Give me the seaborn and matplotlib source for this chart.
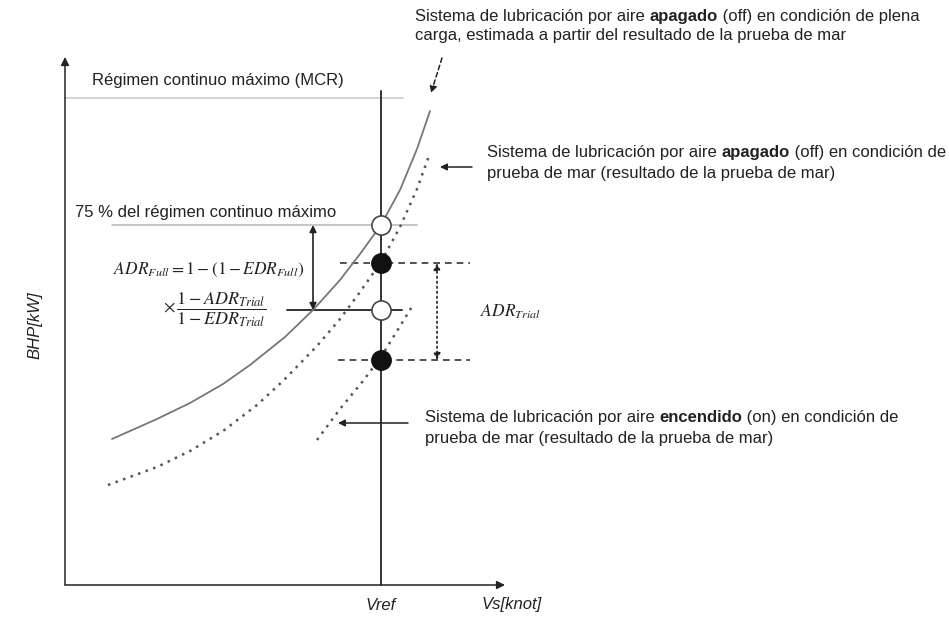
import numpy as np
import pandas as pd
import matplotlib
matplotlib.use("Agg")
import matplotlib.pyplot as plt
import seaborn as sns

# chart units: x = speed, y = power (origin at the axis corner)
# solid curve: air lubrication off, full load (estimated)
off_full_v = [47, 92, 125, 158, 185, 220, 248, 275, 295, 316, 335, 352, 365]
off_full_p = [146, 166, 182, 201, 220, 248, 275, 305, 331, 360, 395, 436, 474]
# dotted curve 1: air lubrication off, sea trial
off_trial_v = [43, 92, 125, 158, 192, 218, 252, 275, 295, 316, 335, 352, 365]
off_trial_p = [100, 118, 134, 154, 180, 204, 239, 266, 293, 323, 358, 396, 432]
# dotted curve 2: air lubrication on, sea trial
on_trial_v = [252, 275, 298, 316, 348]
on_trial_p = [145, 176, 204, 228, 280]

v_ref = 316
p_mcr = 487
p_75 = 360
p_off_trial = 322
p_on_full = 275
p_on_trial = 225

pt_open_v = [v_ref, v_ref]
pt_open_p = [p_75, p_on_full]
pt_fill_v = [v_ref, v_ref]
pt_fill_p = [p_off_trial, p_on_trial]

sns.set_theme(style="white")
plt.rcParams["font.family"] = ["Liberation Sans", "DejaVu Sans"]
plt.rcParams["mathtext.fontset"] = "stix"

fig = plt.figure(figsize=(9.49, 6.29), dpi=100)
ax = fig.add_axes([0, 0, 1, 1])
ax.set_xlim(-65, 884)
ax.set_ylim(-44, 585)
ax.axis("off")

dark = "#222222"
fs = 12

# axes with arrows
ax.annotate("", xy=(0, 528), xytext=(0, 0),
            arrowprops=dict(arrowstyle="-|>", color=dark, lw=1.1, mutation_scale=12, shrinkA=0, shrinkB=0))
ax.annotate("", xy=(440, 0), xytext=(0, 0),
            arrowprops=dict(arrowstyle="-|>", color=dark, lw=1.1, mutation_scale=12, shrinkA=0, shrinkB=0))

# reference lines
ax.plot([0, 338], [p_mcr, p_mcr], color="#cccccc", lw=1.2)
ax.plot([47, 352], [p_75, p_75], color="#bbbbbb", lw=1.2)
ax.plot([v_ref, v_ref], [0, 494], color="#333333", lw=1.4)
ax.plot([275, 405], [p_off_trial, p_off_trial], color="#333333", lw=1.2, linestyle=(0, (4, 3)))
ax.plot([273, 405], [p_on_trial, p_on_trial], color="#333333", lw=1.2, linestyle=(0, (4, 3)))
ax.plot([222, 337], [p_on_full, p_on_full], color="#333333", lw=1.4)

# curves
sns.lineplot(x=off_full_v, y=off_full_p, ax=ax, color="#777777", lw=1.3, sort=False, estimator=None)
sns.lineplot(x=off_trial_v, y=off_trial_p, ax=ax, color="#555555", lw=1.8, sort=False,
             estimator=None, linestyle=(0, (1, 2.2)))
sns.lineplot(x=on_trial_v, y=on_trial_p, ax=ax, color="#555555", lw=1.8, sort=False,
             estimator=None, linestyle=(0, (1, 2.2)))

# points
sns.scatterplot(x=pt_open_v, y=pt_open_p, ax=ax, s=190, color="white", edgecolor="#444444",
                linewidth=1.2, zorder=5)
sns.scatterplot(x=pt_fill_v, y=pt_fill_p, ax=ax, s=190, color="#111111", edgecolor="#111111",
                linewidth=1.2, zorder=5)

# double arrows
ax.annotate("", xy=(248, p_75), xytext=(248, p_on_full),
            arrowprops=dict(arrowstyle="<|-|>", color=dark, lw=1.2, mutation_scale=10, shrinkA=0, shrinkB=0))
ax.annotate("", xy=(372, p_off_trial), xytext=(372, p_on_trial),
            arrowprops=dict(arrowstyle="<|-|>", color=dark, lw=1.2, mutation_scale=10, shrinkA=0,
                            shrinkB=0, linestyle=(0, (1, 2))))

# pointer arrows
ax.annotate("", xy=(366, 492), xytext=(377, 527),
            arrowprops=dict(arrowstyle="-|>", color=dark, lw=1.1, mutation_scale=10, shrinkA=0,
                            shrinkB=0, linestyle=(0, (3, 2))))
ax.annotate("", xy=(375, 418), xytext=(407, 418),
            arrowprops=dict(arrowstyle="-|>", color=dark, lw=1.1, mutation_scale=10, shrinkA=0, shrinkB=0))
ax.annotate("", xy=(273, 162), xytext=(343, 162),
            arrowprops=dict(arrowstyle="-|>", color=dark, lw=1.1, mutation_scale=10, shrinkA=0, shrinkB=0))


def rich_text(x, y, chunks):
    # chunks: list of (string, weight), drawn one after another on the same line
    t = ax.text(x, y, chunks[0][0], fontsize=fs, fontweight=chunks[0][1], color=dark,
                ha="left", va="bottom")
    for s, w in chunks[1:]:
        t = ax.annotate(s, xy=(1, 0), xycoords=t, fontsize=fs, fontweight=w, color=dark,
                        ha="left", va="bottom")


rich_text(350, 561, [("Sistema de lubricación por aire ", "normal"), ("apagado", "bold"),
                     (" (off) en condición de plena", "normal")])
ax.text(350, 542, "carga, estimada a partir del resultado de la prueba de mar", fontsize=fs,
        color=dark, ha="left", va="bottom")

ax.text(27, 505, "Régimen continuo máximo (MCR)", fontsize=fs, color=dark, va="center")

rich_text(422, 425, [("Sistema de lubricación por aire ", "normal"), ("apagado", "bold"),
                     (" (off) en condición de", "normal")])
ax.text(422, 404, "prueba de mar (resultado de la prueba de mar)", fontsize=fs, color=dark,
        ha="left", va="bottom")

ax.text(10, 373, "75 % del régimen continuo máximo", fontsize=fs, color=dark, va="center")

ax.text(48, 315, r"$ADR_{Full} = 1-(1-EDR_{Full})$", fontsize=12.5, color=dark, va="center")
ax.text(98, 275, r"$\times\,\dfrac{1-ADR_{Trial}}{1-EDR_{Trial}}$", fontsize=13, color=dark,
        va="center")
ax.text(415, 273, r"$ADR_{Trial}$", fontsize=12.5, color=dark, va="center")

rich_text(360, 160, [("Sistema de lubricación por aire ", "normal"), ("encendido", "bold"),
                     (" (on) en condición de", "normal")])
ax.text(360, 139, "prueba de mar (resultado de la prueba de mar)", fontsize=fs, color=dark,
        ha="left", va="bottom")

ax.text(-30, 260, "BHP[kW]", fontsize=fs, style="italic", color=dark, rotation=90,
        ha="center", va="center")
ax.text(v_ref, -20, "Vref", fontsize=fs, style="italic", color=dark, ha="center", va="center")
ax.text(447, -20, "Vs[knot]", fontsize=fs, style="italic", color=dark, ha="center", va="center")

fig.savefig("out.png", dpi=100)
